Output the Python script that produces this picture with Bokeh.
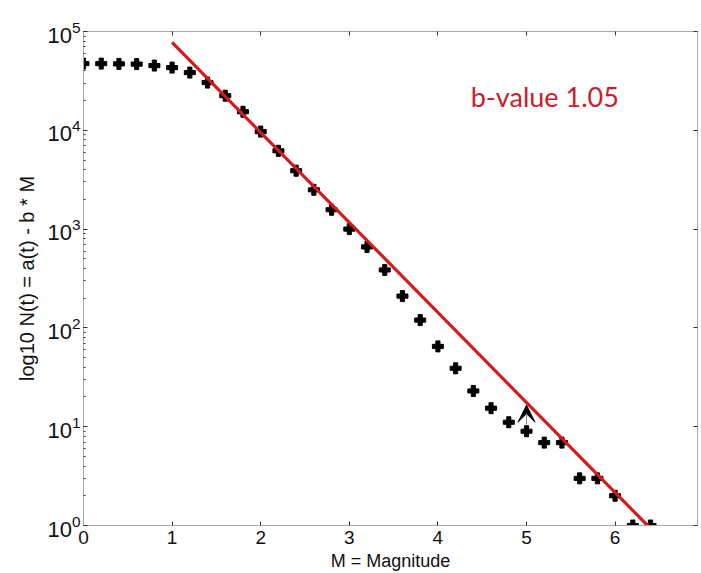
import numpy as np
from bokeh.plotting import figure
from bokeh.models import (ColumnDataSource, LinearAxis, LogAxis, Label, Arrow,
                          VeeHead, Range1d, FixedTicker)
from bokeh.embed import file_html
from bokeh.resources import INLINE

# ---- data ----
magnitude = [0.0, 0.2, 0.4, 0.6, 0.8, 1.0, 1.2, 1.4, 1.6, 1.8, 2.0, 2.2, 2.4,
             2.6, 2.8, 3.0, 3.2, 3.4, 3.6, 3.8, 4.0, 4.2, 4.4, 4.6, 4.8, 5.0,
             5.2, 5.4, 5.6, 5.8, 6.0, 6.2, 6.4]
cum_count = [47300, 47300, 47000, 46800, 45200, 43100, 38400, 30400, 22400,
             15400, 9700, 6200, 3900, 2500, 1570, 1000, 660, 386, 210, 120,
             65, 39, 23, 15.4, 11.1, 9.0, 6.9, 6.9, 3.0, 3.0, 2.0, 1.0, 1.0]
fit_a = 5.80          # intercept of drawn fit line (log10)
fit_b = 0.911         # slope of drawn fit line
fit_m = [1.0, 6.4]    # extent of the fit line
label_text = "b-value 1.05"
arrow_m = 5.0
arrow_from, arrow_to = 10.5, 16.5

x_ticks = [0, 1, 2, 3, 4, 5, 6]

fit_n = [10 ** (fit_a - fit_b * m) for m in fit_m]

p = figure(width=701, height=573, output_backend="svg", toolbar_location=None,
           y_axis_type="log", x_range=Range1d(0, 6.93), y_range=Range1d(1, 1e5),
           min_border_left=83, min_border_right=0, min_border_top=31,
           min_border_bottom=48)
p.background_fill_color = "white"
p.border_fill_color = "white"
p.outline_line_color = "#a8a8a8"
p.outline_line_width = 1
p.xgrid.visible = False
p.ygrid.visible = False

TICK = "#333333"
AX = "#a8a8a8"
FONT = "Liberation Sans"

xa = p.xaxis[0]
xa.ticker = FixedTicker(ticks=x_ticks)
xa.axis_line_color = AX
xa.major_tick_line_color = TICK
xa.major_tick_in = 4
xa.major_tick_out = 0
xa.minor_tick_line_color = None
xa.major_label_text_font = FONT
xa.major_label_text_font_size = "19px"
xa.major_label_text_color = "#111111"
xa.major_label_standoff = 5
xa.axis_label = "M = Magnitude"
xa.axis_label_text_font = FONT
xa.axis_label_text_font_size = "18px"
xa.axis_label_text_font_style = "normal"
xa.axis_label_text_color = "#111111"
xa.axis_label_standoff = 4

ya = p.yaxis[0]
ya.axis_line_color = AX
ya.major_tick_line_color = TICK
ya.major_tick_in = 4
ya.major_tick_out = 0
ya.minor_tick_line_color = TICK
ya.minor_tick_in = 2
ya.minor_tick_out = 0
ya.major_label_text_font = FONT
ya.major_label_text_font_size = "22px"
ya.major_label_text_color = "#111111"
ya.major_label_standoff = 3
ya.axis_label = "log10 N(t) = a(t) - b * M"
ya.axis_label_text_font = FONT
ya.axis_label_text_font_size = "20px"
ya.axis_label_text_font_style = "normal"
ya.axis_label_text_color = "#111111"
ya.axis_label_standoff = 6

top = LinearAxis(ticker=FixedTicker(ticks=x_ticks), axis_line_color=AX,
                 major_tick_line_color=TICK, major_tick_in=4, major_tick_out=0,
                 minor_tick_line_color=None, major_label_text_color=None,
                 major_label_text_font_size="1px", major_label_standoff=0)
p.add_layout(top, "above")
right = LogAxis(axis_line_color=AX, major_tick_line_color=TICK, major_tick_in=4,
                major_tick_out=0, minor_tick_line_color=None,
                major_label_text_color=None, major_label_text_font_size="1px",
                major_label_standoff=0)
p.add_layout(right, "right")

src = ColumnDataSource(dict(m=magnitude, n=cum_count))
p.scatter("m", "n", source=src, marker="plus", size=11, color="black")

p.line(fit_m, fit_n, line_color="#d51a1a", line_width=3.2)

p.add_layout(Arrow(end=VeeHead(size=17, fill_color="black", line_color="black",
                               line_width=1),
                   x_start=arrow_m, y_start=arrow_from, x_end=arrow_m,
                   y_end=arrow_to, line_color="#888888", line_width=1))

p.add_layout(Label(x=4.37, y=22000, text=label_text, text_font="Lato",
                   text_font_size="27px", text_color="#c8202a",
                   text_baseline="alphabetic", text_align="left"))

open("out.html", "w").write(file_html(p, INLINE))
